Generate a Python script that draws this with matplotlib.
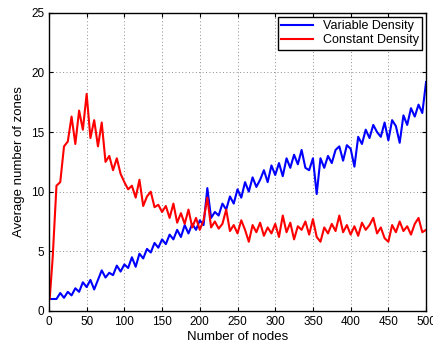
import numpy as np
import matplotlib
matplotlib.use('Agg')
import matplotlib.pyplot as plt

plt.rcParams['font.family'] = ['Liberation Sans', 'DejaVu Sans']

# number of nodes (sampled every 5)
nodes = [1] + list(range(5, 501, 5))

# values
variable_density = [
    1.0, 1.0, 1.0, 1.5, 1.1, 1.6, 1.3, 1.9, 1.6, 2.4,
    2.0, 2.6, 1.8, 2.6, 3.4, 2.8, 3.2, 3.0, 3.8, 3.3,
    3.9, 3.6, 4.5, 3.7, 4.8, 4.4, 5.2, 4.9, 5.7, 5.3,
    6.0, 5.6, 6.4, 6.0, 6.8, 6.2, 7.2, 6.5, 7.3, 6.8,
    7.6, 7.2, 10.3, 7.8, 8.3, 8.0, 9.0, 8.5, 9.6, 9.0,
    10.2, 9.5, 10.8, 10.0, 11.2, 10.4, 11.0, 11.8, 10.8, 12.2,
    11.4, 12.4, 11.3, 12.8, 12.0, 13.1, 12.3, 13.5, 12.0, 11.8,
    12.8, 9.8, 12.8, 12.0, 13.0, 12.4, 13.5, 13.8, 12.6, 13.9,
    13.6, 12.1, 14.6, 14.0, 15.2, 14.5, 15.6, 15.0, 14.6, 15.8,
    14.3, 16.0, 15.5, 14.1, 16.4, 15.6, 17.0, 16.3, 17.3, 16.6,
    19.2,
]
constant_density = [
    1.0, 4.5, 10.5, 10.8, 13.8, 14.2, 16.3, 14.0, 16.8, 15.2,
    18.2, 14.5, 16.0, 13.8, 15.8, 12.5, 13.0, 11.8, 12.8, 11.5,
    10.8, 10.2, 10.5, 9.5, 11.0, 8.8, 9.6, 10.0, 8.7, 8.9,
    8.3, 8.8, 7.8, 9.0, 7.4, 8.2, 7.3, 8.5, 7.0, 7.8,
    6.8, 7.6, 9.5, 7.0, 7.5, 6.9, 7.3, 8.5, 6.7, 7.2,
    6.5, 7.6, 6.8, 5.8, 7.2, 6.6, 7.4, 6.3, 7.0, 6.5,
    7.3, 6.2, 8.0, 6.6, 7.4, 6.0, 7.1, 6.8, 7.5, 6.4,
    7.7, 6.2, 5.8, 7.0, 6.5, 7.3, 6.7, 8.0, 6.6, 7.2,
    6.4, 7.1, 6.3, 7.4, 6.8, 7.2, 7.8, 6.5, 7.0, 6.1,
    5.8, 7.2, 6.6, 7.5, 6.7, 7.1, 6.4, 7.3, 7.8, 6.6,
    6.8,
]

fig = plt.figure(figsize=(4.33, 3.47), dpi=100)
ax = fig.add_axes([0.113, 0.104, 0.871, 0.859])

ax.plot(nodes, variable_density, color='blue', lw=1.5, label='Variable Density')
ax.plot(nodes, constant_density, color='red', lw=1.5, label='Constant Density')

ax.set_xlim(0, 500)
ax.set_ylim(0, 25)
ax.set_xticks(range(0, 501, 50))
ax.set_yticks(range(0, 26, 5))
ax.tick_params(direction='in', labelsize=8.5, length=3, top=True, right=True)
ax.grid(True, linestyle=(0, (1, 2.5)), color='0.55', lw=0.7)
for s in ax.spines.values():
    s.set_linewidth(1.0)

ax.set_xlabel('Number of nodes', fontsize=9.5, labelpad=2)
ax.set_ylabel('Average number of zones', fontsize=9.5, labelpad=4)

leg = ax.legend(loc='upper right', fontsize=9, fancybox=False, framealpha=1,
                edgecolor='black', borderaxespad=0.3, handlelength=2.5,
                borderpad=0.3, labelspacing=0.15)
leg.get_frame().set_linewidth(1.0)

fig.savefig('out.png', dpi=100)
